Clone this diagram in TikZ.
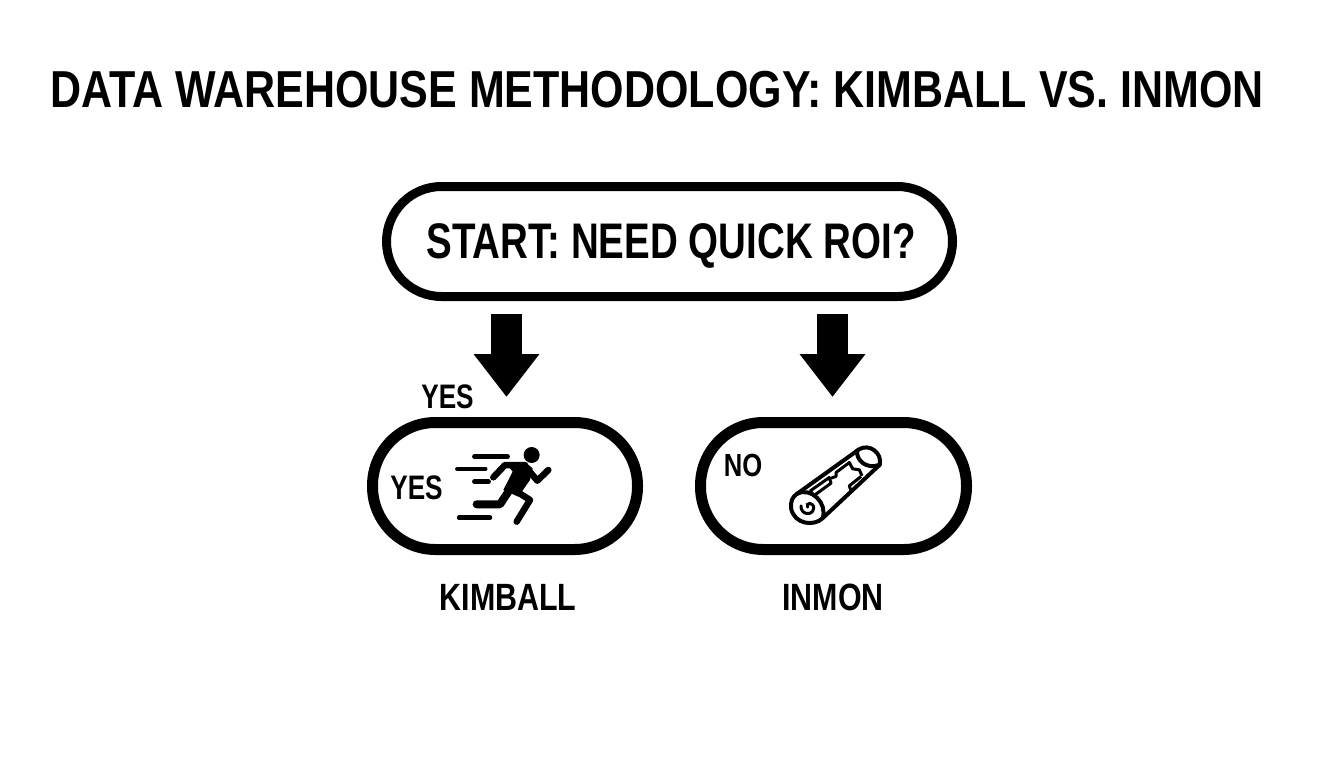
\documentclass[tikz,border=0pt]{standalone}
\usepackage{fontspec}
\setmainfont[FakeStretch=0.80]{Liberation Sans}
\newfontfamily\titlefont[FakeStretch=0.827]{Liberation Sans}
\newfontfamily\qfont[FakeStretch=0.77]{Liberation Sans}
\usetikzlibrary{arrows.meta}
\tikzset{
  pill/.style={draw=black,fill=white,rectangle,line width=#1,outer sep=0pt,inner sep=0pt},
  lbl/.style={inner sep=0pt,outer sep=0pt,text=black,font=\bfseries},
  blockarrow/.style={draw=black,line width=31pt,{-{Triangle[length=43pt,width=63pt]}}},
  speed/.style={line cap=round,line width=4.5pt},
  limb/.style={line cap=round,line join=round,line width=6.5pt},
  scrollline/.style={line width=4pt,line join=round,line cap=round}
}
\begin{document}
\begin{tikzpicture}[x=1pt,y=-1pt]
\useasboundingbox (0,0) rectangle (1344,768);
\fill[white] (0,0) rectangle (1344,768);
\node[lbl,font=\titlefont\bfseries\fontsize{52}{52}\selectfont] (title) at (657,90) {DATA WAREHOUSE METHODOLOGY: KIMBALL VS. INMON};
\node[pill=9pt,minimum width=566pt,minimum height=110pt,rounded corners=55pt] (start) at (669.5,241.5) {};
\node[lbl,font=\qfont\bfseries\fontsize{50}{50}\selectfont] (q) at (671,246) {START: NEED QUICK ROI?};
\node[pill=11pt,minimum width=265pt,minimum height=127pt,rounded corners=63pt] (kimball) at (505,486) {};
\node[pill=11pt,minimum width=266pt,minimum height=127pt,rounded corners=63pt] (inmon) at (833.5,486) {};
\coordinate (ka) at ([xshift=1.5pt]kimball.north);
\coordinate (ia) at ([xshift=-1pt]inmon.north);
\draw[blockarrow,shorten <=17.5pt,shorten >=25.5pt] (start.south -| ka) -- (ka);
\draw[blockarrow,shorten <=17.5pt,shorten >=25.5pt] (start.south -| ia) -- (ia);
\node[lbl,font=\qfont\bfseries\fontsize{34}{34}\selectfont] (yesa) at (447.5,396.5) {YES};
\node[lbl,font=\qfont\bfseries\fontsize{34}{34}\selectfont] (yesb) at (416.5,487.5) {YES};
\node[lbl,font=\bfseries\fontsize{32}{32}\selectfont] (no) at (743,465) {NO};
\node[lbl,font=\bfseries\fontsize{38}{38}\selectfont] (kl) at (508,597) {KIMBALL};
\node[lbl,font=\bfseries\fontsize{38}{38}\selectfont] (il) at (833,597) {INMON};
% runner
\begin{scope}[shift={(450,440)},x=0.3333pt,y=-0.3333pt]
\fill (245,45) circle (24);
\draw[speed] (73,50) -- (173,50);
\draw[speed] (22,87) -- (106,87);
\draw[speed] (73,125) -- (116,125);
\draw[speed] (27,233) -- (120,233);
\draw[line cap=round,line join=round,line width=6.5pt] (130,112) -- (165,75) -- (225,75);
\fill (165,66) -- (225,66) -- (248,85) -- (240,120) -- (205,170) -- (160,150) -- (188,95) -- cycle;
\draw[limb] (235,90) -- (262,122) -- (295,90);
\draw[limb] (185,145) -- (240,180) -- (200,245);
\draw[line cap=round,line join=round,line width=8pt] (80,193) -- (150,193) -- (185,140);
\end{scope}
% scroll
\begin{scope}[shift={(781,436.5)},x=0.3333pt,y=-0.3333pt]
\draw[scrollline,fill=white] (48,172) -- (235,38) .. controls (265,20) and (305,50) .. (296,85) -- (125,245) .. controls (100,270) and (40,265) .. (30,215) .. controls (28,195) and (35,180) .. (48,172) -- cycle;
\draw[scrollline] (48,172) .. controls (90,150) and (140,200) .. (125,245);
\draw[line width=3pt,line cap=round] (80,212) .. controls (72,198) and (98,195) .. (98,215) .. controls (95,240) and (58,235) .. (60,208);
\draw[scrollline] (228,42) .. controls (225,70) and (255,100) .. (296,85);
\draw[line width=3pt,line join=round] (88,163) -- (145,123) -- (150,140) -- (98,178) -- cycle;
\draw[line width=3pt,line join=round] (150,125) -- (165,120) -- (165,108) -- (205,78) -- (215,97) -- (235,100) -- (243,118);
\draw[line width=3pt,line join=round] (240,120) -- (205,148) -- (212,170);
\end{scope}
\end{tikzpicture}
\end{document}
